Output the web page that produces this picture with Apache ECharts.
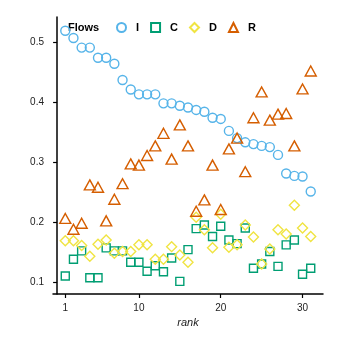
<!DOCTYPE html>
<html>
<head>
    <meta charset="utf-8">
    <title>Flows by rank</title>
    <script src="https://cdn.jsdelivr.net/npm/echarts@6/dist/echarts.min.js"></script>
</head>
<body style="margin:0">
    <div id="main" style="width: 342px;height:342px;"></div>
    <script type="text/javascript">
        // values
        var ranks = [1,2,3,4,5,6,7,8,9,10,11,12,13,14,15,16,17,18,19,20,21,22,23,24,25,26,27,28,29,30,31];
        var flowI = [0.519,0.507,0.491,0.491,0.474,0.474,0.464,0.437,0.421,0.413,0.413,0.413,0.398,0.398,0.394,0.391,
                     0.387,0.384,0.374,0.372,0.352,0.340,0.333,0.330,0.327,0.325,0.312,0.281,0.277,0.276,0.251];
        var flowC = [0.110,0.138,0.152,0.107,0.107,0.157,0.152,0.152,0.133,0.133,0.118,0.127,0.117,0.140,0.101,0.154,
                     0.189,0.195,0.176,0.193,0.170,0.164,0.190,0.123,0.130,0.151,0.126,0.162,0.170,0.113,0.123];
        var flowD = [0.169,0.169,0.161,0.143,0.163,0.170,0.148,0.151,0.151,0.162,0.162,0.138,0.138,0.159,0.145,0.133,
                     0.208,0.187,0.157,0.213,0.158,0.162,0.195,0.175,0.130,0.155,0.187,0.180,0.228,0.190,0.176];
        var flowR = [0.206,0.188,0.198,0.262,0.258,0.202,0.238,0.264,0.297,0.295,0.311,0.327,0.348,0.305,0.362,0.327,
                     0.218,0.237,0.295,0.221,0.322,0.340,0.284,0.374,0.417,0.370,0.380,0.381,0.327,0.422,0.452];
        var xTicks = [1, 10, 20, 30];
        var yTicks = [0.1, 0.2, 0.3, 0.4, 0.5];

        function pairs(vals) {
            var out = [];
            for (var i = 0; i < ranks.length; i++) {
                out.push([ranks[i], vals[i]]);
            }
            return out;
        }

        function hollow(name, vals, symbol, size, color) {
            return {
                name: name,
                type: 'scatter',
                data: pairs(vals),
                symbol: symbol,
                symbolSize: size,
                itemStyle: {
                    color: 'rgba(255,255,255,0)',
                    borderColor: color,
                    borderWidth: 1.4,
                    opacity: 1
                },
                emphasis: {disabled: true}
            };
        }

        var myChart = echarts.init(document.getElementById('main'));
        var axisFont = {fontFamily: 'Liberation Sans', fontSize: 10, color: '#222'};

        var option = {
            animation: false,
            grid: {left: 53, right: 19, top: 17, bottom: 48},
            graphic: [{
                type: 'text',
                left: 68,
                top: 22,
                style: {text: 'Flows', fontFamily: 'Liberation Sans', fontSize: 11, fontWeight: 'bold', fill: '#000'}
            }],
            legend: {
                left: 111,
                top: 17,
                itemWidth: 9,
                itemHeight: 9,
                itemGap: 11,
                textStyle: {fontFamily: 'Liberation Sans', fontSize: 11, fontWeight: 'bold', color: '#000', padding: [0, 0, 0, 5]},
                data: ['I', 'C', 'D', 'R']
            },
            xAxis: {
                type: 'value',
                min: -0.5,
                max: 32.5,
                name: 'rank',
                nameLocation: 'middle',
                nameGap: 23,
                nameTextStyle: {fontFamily: 'Liberation Sans', fontSize: 11, fontStyle: 'italic', color: '#222'},
                axisLine: {lineStyle: {color: '#000', width: 1.5}},
                axisTick: {show: true, length: 4, customValues: xTicks, lineStyle: {color: '#000', width: 1.2}},
                axisLabel: Object.assign({customValues: xTicks, margin: 9}, axisFont),
                splitLine: {show: false}
            },
            yAxis: {
                type: 'value',
                min: 0.08,
                max: 0.542,
                axisLine: {show: true, lineStyle: {color: '#000', width: 1.5}},
                axisTick: {show: true, length: 4, customValues: yTicks, lineStyle: {color: '#000', width: 1.2}},
                axisLabel: Object.assign({customValues: yTicks, margin: 9, formatter: function (v) { return v.toFixed(1); }}, axisFont),
                splitLine: {show: false}
            },
            series: [
                hollow('I', flowI, 'circle', 9, '#56B4E9'),
                hollow('C', flowC, 'rect', 8, '#009E73'),
                hollow('D', flowD, 'diamond', 10, '#F0E442'),
                hollow('R', flowR, 'triangle', [11, 10], '#D55E00')
            ]
        };

        myChart.setOption(option);
    </script>
</body>
</html>
